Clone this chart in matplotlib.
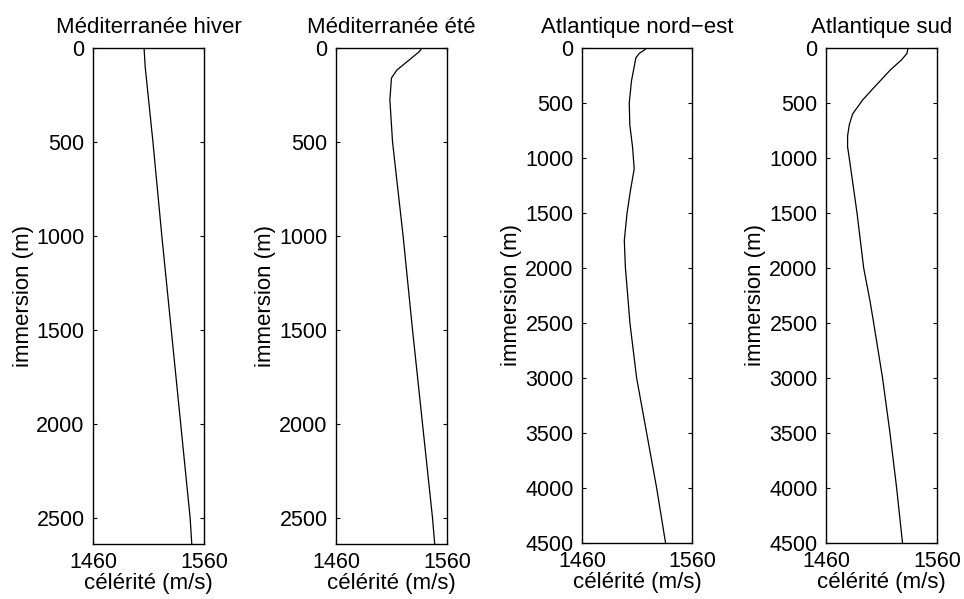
import matplotlib
matplotlib.use("Agg")
import matplotlib.pyplot as plt

plt.rcParams['font.family'] = ['Liberation Sans', 'DejaVu Sans']

titles = ["Méditerranée hiver", "Méditerranée été", "Atlantique nord\u2212est", "Atlantique sud"]
ylims = [2640, 2640, 4500, 4500]

med_hiver_depth = [0, 100, 500, 1000, 1500, 2000, 2500, 2640]
med_hiver_speed = [1506, 1507, 1514, 1522, 1530.5, 1539, 1547.5, 1549]

med_ete_depth = [0, 20, 117, 160, 277, 500, 1000, 1500, 2000, 2500, 2640]
med_ete_speed = [1537.5, 1535, 1515, 1510, 1508.6, 1511, 1520.5, 1529, 1538, 1547, 1549]

atl_ne_depth = [0, 20, 50, 90, 300, 500, 700, 900, 1100, 1300, 1500, 1750, 2000, 2300, 2500, 3000, 3500, 4000, 4500]
atl_ne_speed = [1519, 1516.5, 1512, 1509, 1505, 1503, 1503.5, 1506, 1507.5, 1504, 1501, 1498.5, 1499.5, 1502, 1503.6, 1509.7, 1518.8, 1527.9, 1536]

atl_sud_depth = [0, 50, 109, 200, 352, 473, 600, 700, 800, 900, 1000, 1500, 2000, 2300, 2500, 3000, 3500, 4000, 4500]
atl_sud_speed = [1534, 1533, 1528, 1518, 1504, 1493, 1484, 1481, 1479.5, 1479.5, 1481, 1488, 1494, 1499.7, 1503, 1511, 1517.7, 1523.7, 1529]

depths = [med_hiver_depth, med_ete_depth, atl_ne_depth, atl_sud_depth]
speeds = [med_hiver_speed, med_ete_speed, atl_ne_speed, atl_sud_speed]

xticks = [1460, 1560]
yticks_short = [0, 500, 1000, 1500, 2000, 2500]
yticks_long = [0, 500, 1000, 1500, 2000, 2500, 3000, 3500, 4000, 4500]

fig = plt.figure(figsize=(9.64, 5.99), dpi=100)
lefts = [0.0965, 0.3485, 0.6037, 0.8568]
widths = [0.1151, 0.1151, 0.1141, 0.1151]
bottoms = [0.0918, 0.0918, 0.0935, 0.0935]
heights = [0.8281, 0.8281, 0.8264, 0.8264]

for i in range(4):
    ax = fig.add_axes([lefts[i], bottoms[i], widths[i], heights[i]])
    ax.plot(speeds[i], depths[i], color='black', linewidth=0.9)
    ax.set_xlim(1460, 1560)
    ax.set_ylim(ylims[i], 0)
    ax.set_xticks(xticks)
    ax.set_yticks(yticks_short if i < 2 else yticks_long)
    ax.tick_params(direction='in', length=3, width=0.8, labelsize=15.5,
                   left=True, right=True, top=True, bottom=True)
    ax.tick_params(axis='y', pad=6)
    ax.tick_params(axis='x', pad=6)
    for s in ax.spines.values():
        s.set_linewidth(1.0)
    ax.set_title(titles[i], fontsize=16, pad=11)
    ax.set_xlabel("célérité (m/s)", fontsize=16, labelpad=0)
    ax.set_ylabel("immersion (m)", fontsize=16, labelpad=2)

fig.savefig("out.png", dpi=100)
